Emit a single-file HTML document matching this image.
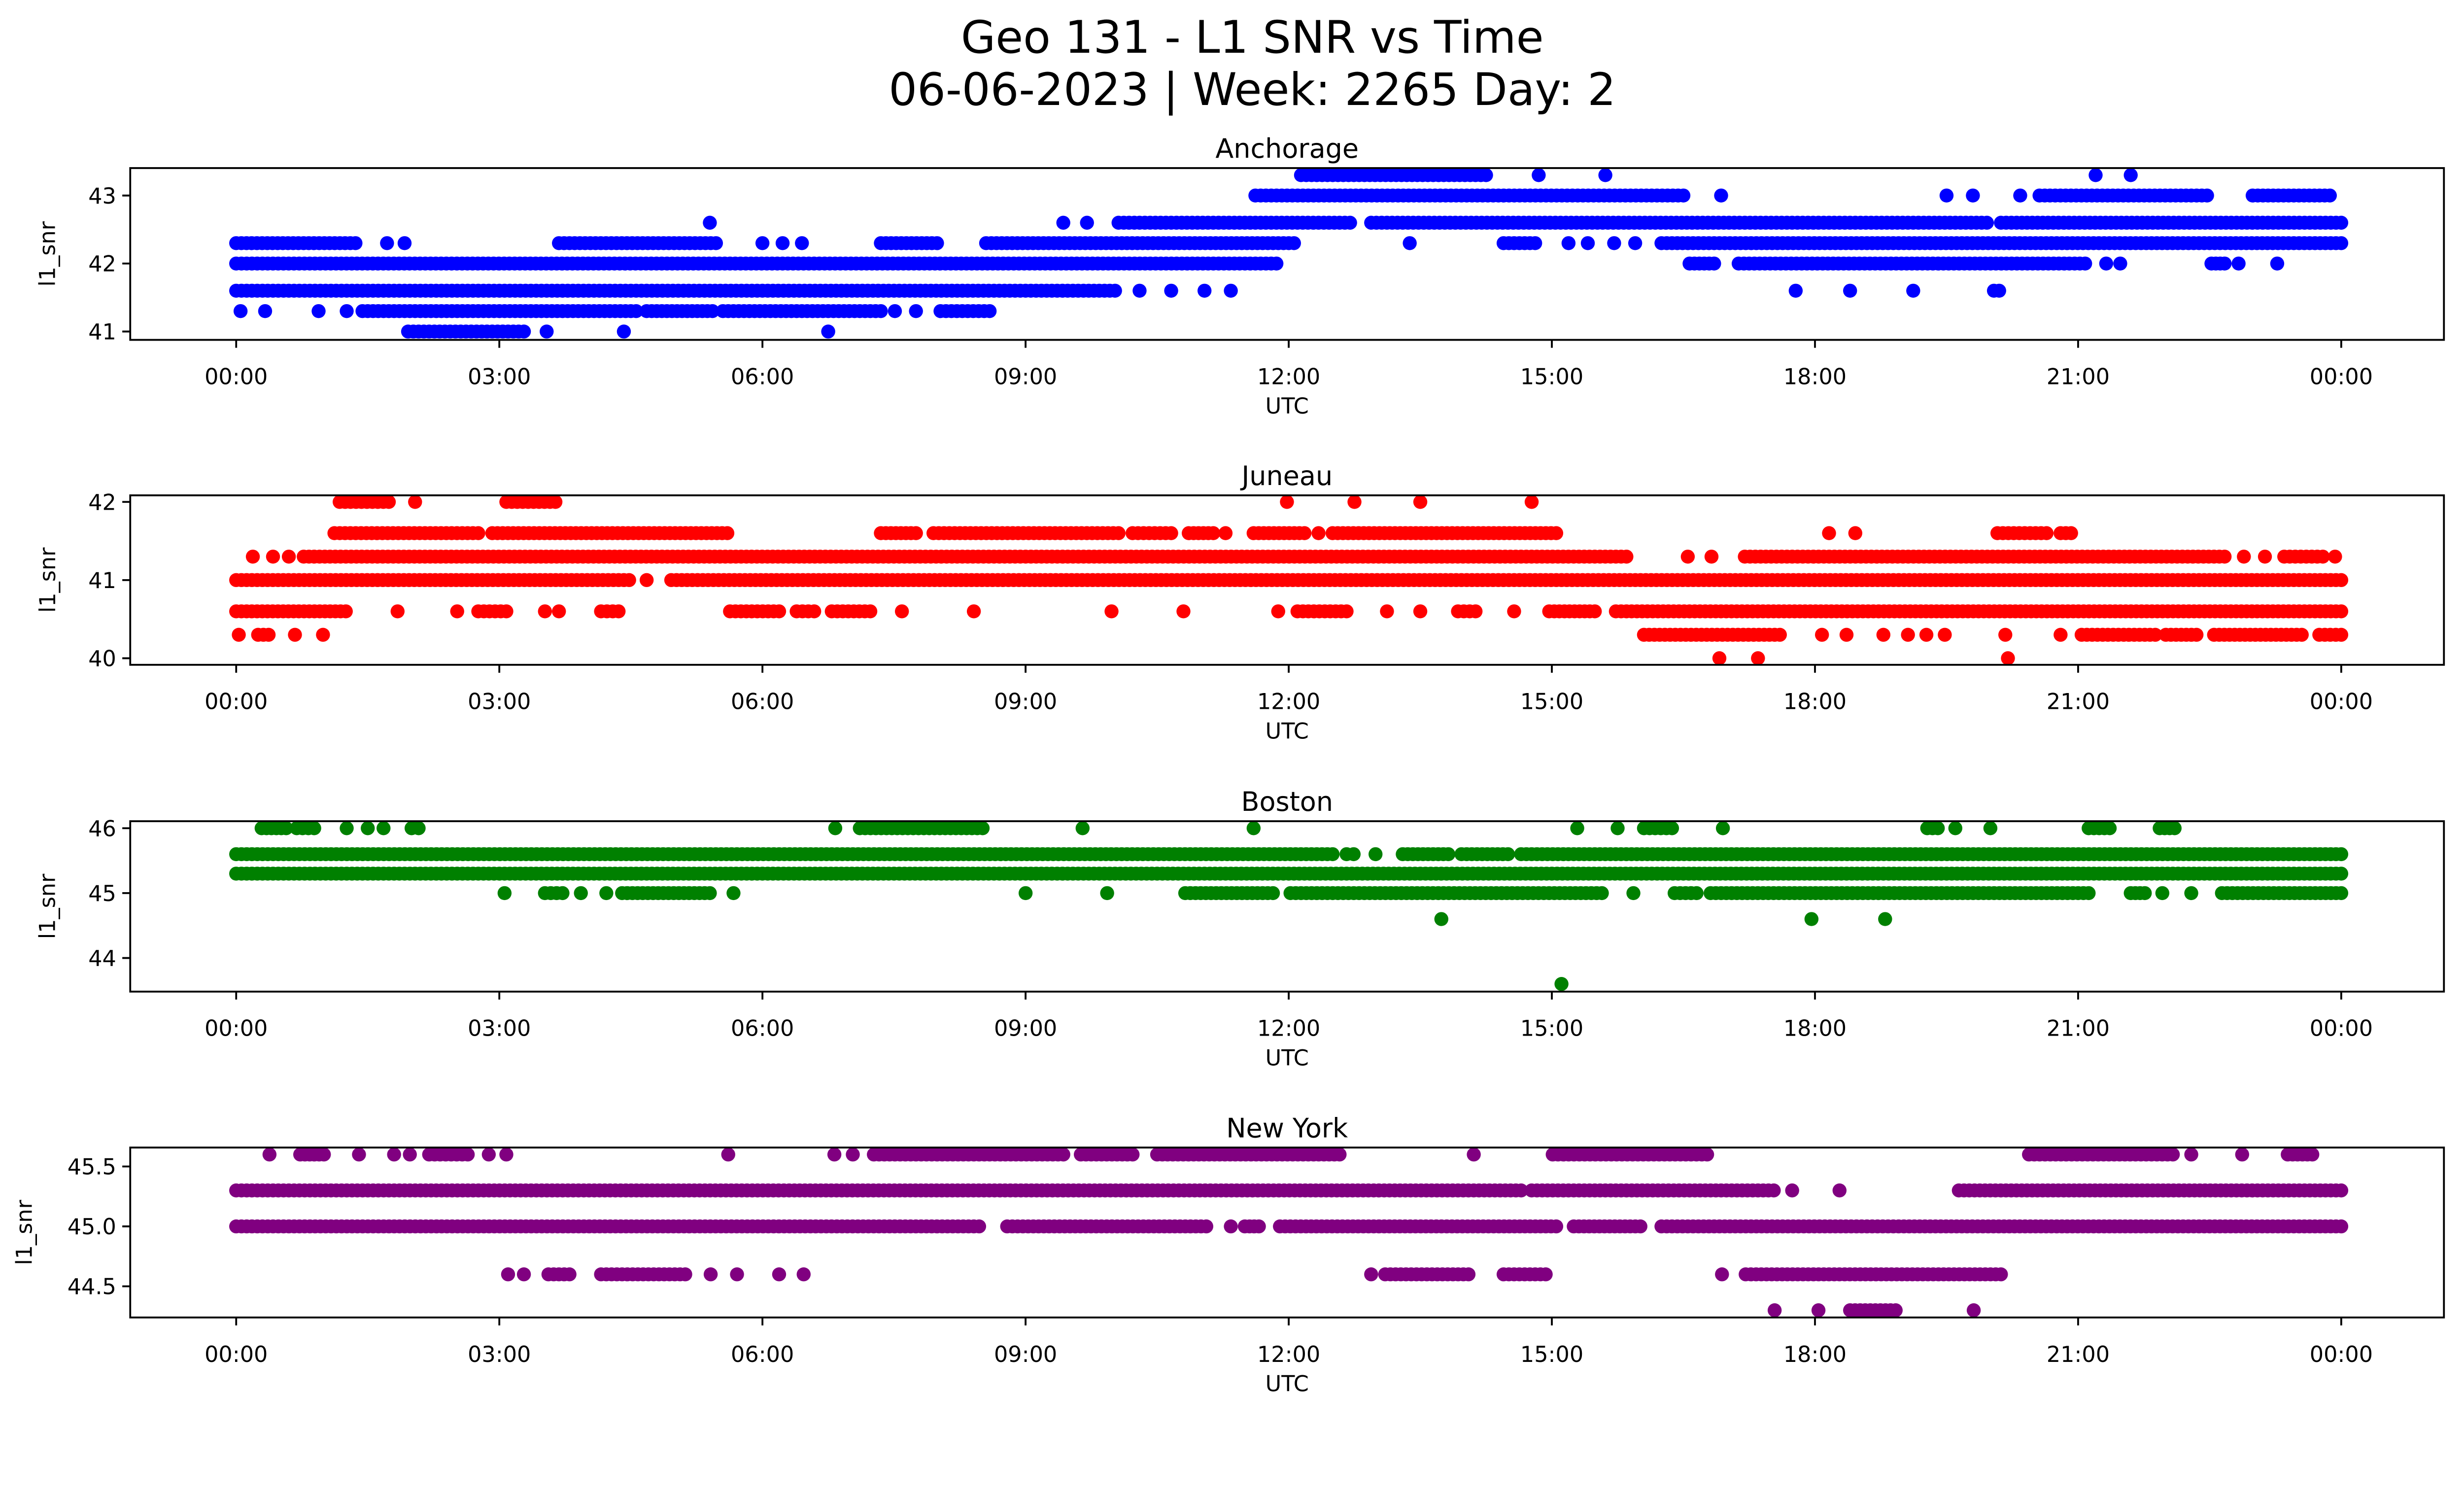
<!DOCTYPE html>
<html><head><meta charset="utf-8"><style>
html,body{margin:0;padding:0;background:#fff;overflow:hidden;}
svg{display:block;width:100vw;height:calc(100vw * 3033 / 5279);font-family:"DejaVu Sans","Liberation Sans",sans-serif;}
</style></head><body>
<svg id="fig" viewBox="0 0 5279 3033" preserveAspectRatio="none" xmlns="http://www.w3.org/2000/svg">
<rect width="5279" height="3033" fill="#fff"/>
<text x="2683" y="113" font-size="96" text-anchor="middle">Geo 131 - L1 SNR vs Time</text>
<text x="2683" y="225" font-size="96" text-anchor="middle">06-06-2023 | Week: 2265 Day: 2</text>
<g id="plots"></g>
</svg>
<script>
// Series runs: [level, startHour, endHour]
const anchorageRuns = [
[43.3,12.14,14.25],[43.3,14.85,14.85],[43.3,15.61,15.61],[43.3,21.2,21.2],[43.3,21.6,21.6],
[43.0,11.62,16.5],[43.0,16.93,16.93],[43.0,19.5,19.5],[43.0,19.8,19.8],[43.0,20.34,20.34],[43.0,20.56,22.47],[43.0,22.99,23.87],
[42.6,5.4,5.4],[42.6,9.43,9.43],[42.6,9.7,9.7],[42.6,10.06,12.7],[42.6,12.94,19.96],[42.6,20.12,24.0],
[42.3,0,1.36],[42.3,1.72,1.72],[42.3,1.92,1.92],[42.3,3.68,5.47],[42.3,6.0,6.0],[42.3,6.23,6.23],[42.3,6.45,6.45],[42.3,7.35,7.99],[42.3,8.55,12.06],[42.3,13.38,13.38],[42.3,14.45,14.81],[42.3,15.19,15.19],[42.3,15.41,15.41],[42.3,15.71,15.71],[42.3,15.95,15.95],[42.3,16.25,24.0],
[42.0,0,11.86],[42.0,16.57,16.85],[42.0,17.13,21.08],[42.0,21.32,21.32],[42.0,21.48,21.48],[42.0,22.52,22.67],[42.0,22.83,22.83],[42.0,23.27,23.27],
[41.6,0,10.02],[41.6,10.3,10.3],[41.6,10.66,10.66],[41.6,11.04,11.04],[41.6,11.34,11.34],[41.6,17.78,17.78],[41.6,18.4,18.4],[41.6,19.12,19.12],[41.6,20.04,20.1],
[41.3,0.05,0.05],[41.3,0.33,0.33],[41.3,0.94,0.94],[41.3,1.26,1.26],[41.3,1.44,4.56],[41.3,4.68,5.43],[41.3,5.55,7.35],[41.3,7.51,7.51],[41.3,7.75,7.75],[41.3,8.03,8.59],
[41.0,1.96,3.28],[41.0,3.54,3.54],[41.0,4.42,4.42],[41.0,6.75,6.75]
];
const juneauRuns = [
[42.0,1.18,1.74],[42.0,2.04,2.04],[42.0,3.08,3.64],[42.0,11.98,11.98],[42.0,12.75,12.75],[42.0,13.5,13.5],[42.0,14.77,14.77],
[41.6,1.12,2.76],[41.6,2.92,5.6],[41.6,7.35,7.75],[41.6,7.95,10.06],[41.6,10.22,10.66],[41.6,10.86,11.14],[41.6,11.28,11.28],[41.6,11.6,12.18],[41.6,12.34,12.34],[41.6,12.5,15.05],[41.6,18.16,18.16],[41.6,18.46,18.46],[41.6,20.08,20.64],[41.6,20.8,20.92],
[41.3,0.19,0.19],[41.3,0.42,0.42],[41.3,0.6,0.6],[41.3,0.77,15.85],[41.3,16.55,16.55],[41.3,16.82,16.82],[41.3,17.2,22.67],[41.3,22.89,22.89],[41.3,23.13,23.13],[41.3,23.35,23.79],[41.3,23.93,23.93],
[41.0,0,4.48],[41.0,4.68,4.68],[41.0,4.96,24.0],
[40.6,0,1.25],[40.6,1.84,1.84],[40.6,2.52,2.52],[40.6,2.76,3.08],[40.6,3.52,3.52],[40.6,3.68,3.68],[40.6,4.16,4.36],[40.6,5.63,6.19],[40.6,6.39,6.59],[40.6,6.79,7.23],[40.6,7.59,7.59],[40.6,8.41,8.41],[40.6,9.98,9.98],[40.6,10.8,10.8],[40.6,11.88,11.88],[40.6,12.1,12.66],[40.6,13.12,13.12],[40.6,13.5,13.5],[40.6,13.93,14.13],[40.6,14.57,14.57],[40.6,14.97,15.49],[40.6,15.73,24.0],
[40.3,0.03,0.03],[40.3,0.25,0.37],[40.3,0.67,0.67],[40.3,0.99,0.99],[40.3,16.05,17.6],[40.3,18.08,18.08],[40.3,18.36,18.36],[40.3,18.78,18.78],[40.3,19.06,19.06],[40.3,19.27,19.27],[40.3,19.48,19.48],[40.3,20.17,20.17],[40.3,20.8,20.8],[40.3,21.04,21.88],[40.3,22.0,22.35],[40.3,22.55,23.55],[40.3,23.75,24.0],
[40.0,16.91,16.91],[40.0,17.35,17.35],[40.0,20.2,20.2]
];
const bostonRuns = [
[46.0,0.29,0.57],[46.0,0.69,0.89],[46.0,1.26,1.26],[46.0,1.5,1.5],[46.0,1.68,1.68],[46.0,2.0,2.08],[46.0,6.83,6.83],[46.0,7.11,8.51],[46.0,9.65,9.65],[46.0,11.6,11.6],[46.0,15.29,15.29],[46.0,15.75,15.75],[46.0,16.05,16.37],[46.0,16.95,16.95],[46.0,19.28,19.4],[46.0,19.6,19.6],[46.0,20.0,20.0],[46.0,21.12,21.36],[46.0,21.93,22.1],
[45.6,0,12.5],[45.6,12.66,12.74],[45.6,12.99,12.99],[45.6,13.3,13.82],[45.6,13.97,14.5],[45.6,14.65,24.0],
[45.3,0,24.0],
[45.0,3.06,3.06],[45.0,3.52,3.72],[45.0,3.93,3.93],[45.0,4.22,4.22],[45.0,4.4,5.4],[45.0,5.67,5.67],[45.0,9.0,9.0],[45.0,9.93,9.93],[45.0,10.82,11.82],[45.0,12.02,15.57],[45.0,15.93,15.93],[45.0,16.4,16.65],[45.0,16.81,21.12],[45.0,21.6,21.76],[45.0,21.96,21.96],[45.0,22.29,22.29],[45.0,22.64,24.0],
[44.6,13.74,13.74],[44.6,17.96,17.96],[44.6,18.8,18.8],
[43.6,15.11,15.11]
];
const newYorkRuns = [
[45.6,0.38,0.38],[45.6,0.73,1.0],[45.6,1.4,1.4],[45.6,1.8,1.8],[45.6,1.98,1.98],[45.6,2.2,2.64],[45.6,2.88,2.88],[45.6,3.08,3.08],[45.6,5.61,5.61],[45.6,6.82,6.82],[45.6,7.03,7.03],[45.6,7.27,9.43],[45.6,9.63,10.22],[45.6,10.5,12.58],[45.6,14.11,14.11],[45.6,15.01,16.77],[45.6,20.44,22.08],[45.6,22.29,22.29],[45.6,22.87,22.87],[45.6,23.39,23.67],
[45.3,0,14.65],[45.3,14.77,17.53],[45.3,17.74,17.74],[45.3,18.28,18.28],[45.3,19.64,24.0],
[45.0,0,8.47],[45.0,8.79,11.06],[45.0,11.34,11.34],[45.0,11.5,11.66],[45.0,11.9,15.05],[45.0,15.25,16.01],[45.0,16.25,24.0],
[44.6,3.1,3.1],[44.6,3.28,3.28],[44.6,3.56,3.8],[44.6,4.16,5.12],[44.6,5.41,5.41],[44.6,5.71,5.71],[44.6,6.19,6.19],[44.6,6.47,6.47],[44.6,12.94,12.94],[44.6,13.1,14.05],[44.6,14.45,14.93],[44.6,16.94,16.94],[44.6,17.21,20.12],
[44.3,17.54,17.54],[44.3,18.04,18.04],[44.3,18.4,18.92],[44.3,19.81,19.81]
];
const xTickHours = [0,3,6,9,12,15,18,21,24];
const xTickLabels = ["00:00","03:00","06:00","09:00","12:00","15:00","18:00","21:00","00:00"];
const anchorageTicks = [41,42,43];
const juneauTicks = [40,41,42];
const bostonTicks = [44,45,46];
const newYorkTicks = [44.5,45.0,45.5];
const newYorkTickLabels = ["44.5","45.0","45.5"];

const NS="http://www.w3.org/2000/svg";
const X0=279, X1=5236, T0=506, T24=5016;
function xScale(h){return T0+(T24-T0)*h/24;}
const panels=[
 {name:"anchorage",title:"Anchorage",runs:anchorageRuns,ticks:anchorageTicks,labels:null,color:"#0000ff",top:360,bot:728,lo:40.877,hi:43.404,ylx:118},
 {name:"juneau",title:"Juneau",runs:juneauRuns,ticks:juneauTicks,labels:null,color:"#ff0000",top:1061,bot:1424,lo:39.916,hi:42.084,ylx:118},
 {name:"boston",title:"Boston",runs:bostonRuns,ticks:bostonTicks,labels:null,color:"#008000",top:1759,bot:2124,lo:43.482,hi:46.108,ylx:118},
 {name:"new-york",title:"New York",runs:newYorkRuns,ticks:newYorkTicks,labels:newYorkTickLabels,color:"#800080",top:2458,bot:2822,lo:44.240,hi:45.658,ylx:68}
];
function mk(tag,attrs,parent){const e=document.createElementNS(NS,tag);for(const k in attrs)e.setAttribute(k,attrs[k]);parent.appendChild(e);return e;}
const root=document.getElementById('plots');
panels.forEach(p=>{
  const g=mk('g',{},root);
  
  
  const yS=v=>p.bot-(v-p.lo)/(p.hi-p.lo)*(p.bot-p.top);
  const pts=mk('g',{fill:p.color},g);
  
  
  p.runs.forEach(r=>{
    const y=yS(r[0]);
    const n=Math.max(1,Math.round((r[2]-r[1])/0.06));
    for(let i=0;i<=n;i++){
      const h=r[1]+(r[2]-r[1])*(i/n);
      mk('circle',{cx:xScale(h).toFixed(1),cy:y.toFixed(1),r:15},pts);
      if(r[2]===r[1])break;
    }
  });
  const fr=mk('rect',{x:X0,y:p.top,width:X1-X0,height:p.bot-p.top,fill:"none",stroke:"#000","stroke-width":4},g);
  
  
  xTickHours.forEach((h,i)=>{
    const x=xScale(h);
    mk('line',{x1:x,x2:x,y1:p.bot,y2:p.bot+17,stroke:"#000","stroke-width":4},g);
    const t=mk('text',{x:x,y:p.bot+95,"font-size":47,"text-anchor":"middle"},g);
    
    
    t.textContent=xTickLabels[i];
  });
  p.ticks.forEach((v,i)=>{
    const y=yS(v);
    mk('line',{x1:X0-17,x2:X0,y1:y,y2:y,stroke:"#000","stroke-width":4},g);
    const t=mk('text',{x:X0-30,y:y+17,"font-size":47,"text-anchor":"end"},g);
    
    
    t.textContent=p.labels?p.labels[i]:String(v);
  });
  const xt=mk('text',{x:(X0+X1)/2,y:p.bot+158,"font-size":47,"text-anchor":"middle"},g);
  
  
  xt.textContent="UTC";
  const cy=(p.top+p.bot)/2;
  const yt=mk('text',{x:p.ylx,y:cy,"font-size":47,"text-anchor":"middle",transform:`rotate(-90 ${p.ylx} ${cy})`},g);
  
  
  yt.textContent="l1_snr";
  const st=mk('text',{x:(X0+X1)/2,y:p.top-22,"font-size":57,"text-anchor":"middle"},g);
  
  
  st.textContent=p.title;
});
</script>
</body></html>
